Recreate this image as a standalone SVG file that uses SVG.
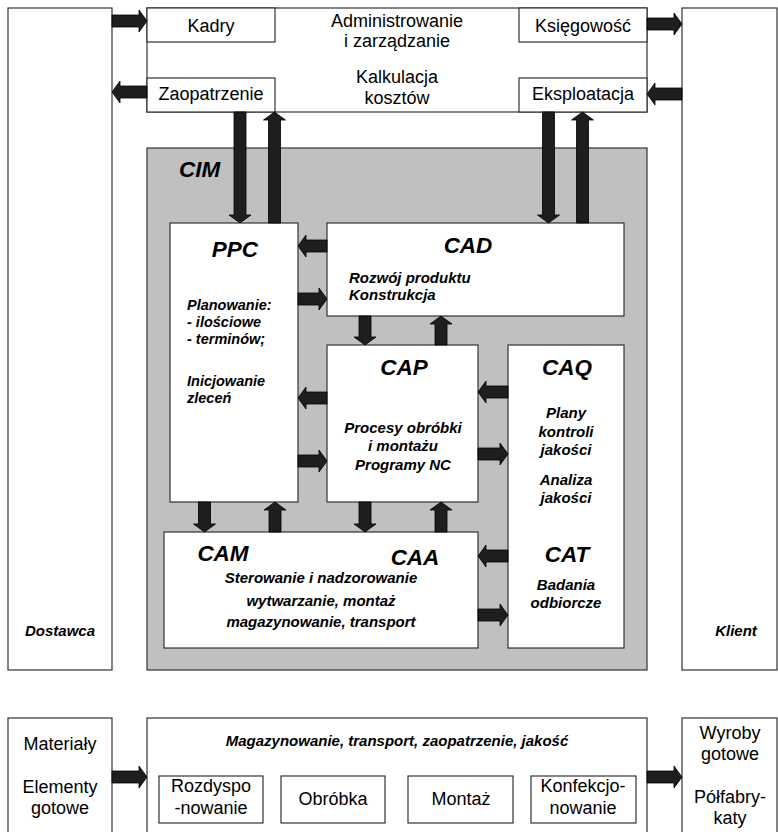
<svg xmlns="http://www.w3.org/2000/svg" width="778" height="832" viewBox="0 0 778 832">
  <style>
    .box { fill: #ffffff; stroke: #333333; stroke-width: 1.2; }
    .cim { fill: #c0c0c0; stroke: #333333; stroke-width: 1.2; }
    .arr { fill: #1e1e1e; stroke: #000000; stroke-width: 0.8; }
    text { font-family: "Liberation Sans", Arial, sans-serif; fill: #000000; }
    .reg { font-size: 18px; }
    .big { font-size: 22.5px; font-weight: bold; font-style: italic; }
    .bi { font-size: 15px; font-weight: bold; font-style: italic; }
    .mid { text-anchor: middle; }
  </style>

  <!-- Supplier and client columns -->
  <g id="dostawca">
    <rect class="box" x="8" y="8" width="104" height="662"/>
    <text class="bi mid" x="60" y="636">Dostawca</text>
  </g>
  <g id="klient">
    <rect class="box" x="682" y="8" width="95" height="662"/>
    <text class="bi mid" x="736" y="636">Klient</text>
  </g>

  <!-- Administration block -->
  <g id="administracja">
    <rect class="box" x="147" y="8" width="500" height="104"/>
    <text class="reg mid" x="397" y="27">Administrowanie</text>
    <text class="reg mid" x="397" y="47">i zarządzanie</text>
    <text class="reg mid" x="397" y="83">Kalkulacja</text>
    <text class="reg mid" x="397" y="104">kosztów</text>
  </g>
  <g id="kadry">
    <rect class="box" x="147" y="8" width="128" height="34"/>
    <text class="reg mid" x="211" y="32">Kadry</text>
  </g>
  <g id="zaopatrzenie">
    <rect class="box" x="147" y="78" width="128" height="34"/>
    <text class="reg mid" x="211" y="100">Zaopatrzenie</text>
  </g>
  <g id="ksiegowosc">
    <rect class="box" x="519" y="8" width="128" height="34"/>
    <text class="reg mid" x="583" y="32">Księgowość</text>
  </g>
  <g id="eksploatacja">
    <rect class="box" x="519" y="78" width="128" height="34"/>
    <text class="reg mid" x="583" y="100">Eksploatacja</text>
  </g>

  <!-- CIM area -->
  <g id="cim">
    <rect class="cim" x="147" y="148" width="500" height="522"/>
    <text class="big" x="179" y="177">CIM</text>
  </g>
  <g id="ppc">
    <rect class="box" x="170" y="223" width="128" height="279"/>
    <text class="big mid" x="235" y="257">PPC</text>
    <text class="bi" x="187" y="310" style="font-size:14.5px">Planowanie:</text>
    <text class="bi" x="187" y="327" style="font-size:14.5px">- ilościowe</text>
    <text class="bi" x="187" y="344" style="font-size:14.5px">- terminów;</text>
    <text class="bi" x="187" y="386" style="font-size:14.5px">Inicjowanie</text>
    <text class="bi" x="187" y="403" style="font-size:14.5px">zleceń</text>
  </g>
  <g id="cad">
    <rect class="box" x="327" y="223" width="297" height="93"/>
    <text class="big mid" x="468" y="253">CAD</text>
    <text class="bi" x="349" y="283">Rozwój produktu</text>
    <text class="bi" x="349" y="300">Konstrukcja</text>
  </g>
  <g id="cap">
    <rect class="box" x="327" y="345" width="151" height="157"/>
    <text class="big mid" x="404" y="375">CAP</text>
    <text class="bi mid" x="403" y="433">Procesy obróbki</text>
    <text class="bi mid" x="403" y="451">i montażu</text>
    <text class="bi mid" x="403" y="470">Programy NC</text>
  </g>
  <g id="caq">
    <rect class="box" x="508" y="345" width="116" height="303"/>
    <text class="big mid" x="567" y="375">CAQ</text>
    <text class="bi mid" x="566" y="418">Plany</text>
    <text class="bi mid" x="566" y="437">kontroli</text>
    <text class="bi mid" x="566" y="455">jakości</text>
    <text class="bi mid" x="566" y="485">Analiza</text>
    <text class="bi mid" x="566" y="503">jakości</text>
    <text class="big mid" x="567" y="562">CAT</text>
    <text class="bi mid" x="566" y="590">Badania</text>
    <text class="bi mid" x="566" y="608">odbiorcze</text>
  </g>
  <g id="cam">
    <rect class="box" x="164" y="532" width="314" height="116"/>
    <text class="big mid" x="223" y="561">CAM</text>
    <text class="big mid" x="415" y="565">CAA</text>
    <text class="bi mid" x="321" y="583">Sterowanie i nadzorowanie</text>
    <text class="bi mid" x="321" y="606">wytwarzanie, montaż</text>
    <text class="bi mid" x="321" y="627">magazynowanie, transport</text>
  </g>

  <!-- Material flow row -->
  <g id="materialy">
    <rect class="box" x="8" y="718" width="104" height="130"/>
    <text class="reg mid" x="60" y="750">Materiały</text>
    <text class="reg mid" x="60" y="793">Elementy</text>
    <text class="reg mid" x="60" y="814">gotowe</text>
  </g>
  <g id="produkcja">
    <rect class="box" x="147" y="718" width="500" height="130"/>
    <text class="bi mid" x="397" y="746">Magazynowanie, transport, zaopatrzenie, jakość</text>
  </g>
  <g id="rozdysponowanie">
    <rect class="box" x="159" y="776" width="104" height="47"/>
    <text class="reg mid" x="211" y="792">Rozdyspo</text>
    <text class="reg mid" x="211" y="814">-nowanie</text>
  </g>
  <g id="obrobka">
    <rect class="box" x="281" y="776" width="104" height="47"/>
    <text class="reg mid" x="333" y="805">Obróbka</text>
  </g>
  <g id="montaz">
    <rect class="box" x="408" y="776" width="105" height="47"/>
    <text class="reg mid" x="461" y="805">Montaż</text>
  </g>
  <g id="konfekcjonowanie">
    <rect class="box" x="531" y="776" width="105" height="47"/>
    <text class="reg mid" x="583" y="792">Konfekcjo-</text>
    <text class="reg mid" x="583" y="814">nowanie</text>
  </g>
  <g id="wyroby">
    <rect class="box" x="682" y="718" width="95" height="130"/>
    <text class="reg mid" x="730" y="739">Wyroby</text>
    <text class="reg mid" x="730" y="760">gotowe</text>
    <text class="reg mid" x="730" y="803">Półfabry-</text>
    <text class="reg mid" x="730" y="824">katy</text>
  </g>

  <!-- Block arrows -->
  <g id="connectors">
    <path class="arr" d="M112,15 H139 V10 L147,21 L139,32 V27 H112 Z"/>
    <path class="arr" d="M147,86 H120 V81 L112,92 L120,103 V98 H147 Z"/>
    <path class="arr" d="M647,18 H674 V13 L682,24 L674,35 V30 H647 Z"/>
    <path class="arr" d="M682,88 H655 V83 L647,94 L655,105 V100 H682 Z"/>
    <path class="arr" d="M327,240 H306 V235 L298,246 L306,257 V252 H327 Z"/>
    <path class="arr" d="M298,293 H319 V288 L327,299 L319,310 V305 H298 Z"/>
    <path class="arr" d="M327,392 H306 V387 L298,398 L306,409 V404 H327 Z"/>
    <path class="arr" d="M298,455 H319 V450 L327,461 L319,472 V467 H298 Z"/>
    <path class="arr" d="M508,386 H486 V381 L478,392 L486,403 V398 H508 Z"/>
    <path class="arr" d="M478,448 H500 V443 L508,454 L500,465 V460 H478 Z"/>
    <path class="arr" d="M508,550 H486 V545 L478,556 L486,567 V562 H508 Z"/>
    <path class="arr" d="M478,609 H500 V604 L508,615 L500,626 V621 H478 Z"/>
    <path class="arr" d="M112,771 H139 V766 L147,777 L139,788 V783 H112 Z"/>
    <path class="arr" d="M647,771 H674 V766 L682,777 L674,788 V783 H647 Z"/>
    <path class="arr" d="M234,112 V215 H229 L240,223 L251,215 H246 V112 Z"/>
    <path class="arr" d="M268.5,223 V120 H263.5 L274.5,112 L285.5,120 H280.5 V223 Z"/>
    <path class="arr" d="M542.5,112 V215 H537.5 L548.5,223 L559.5,215 H554.5 V112 Z"/>
    <path class="arr" d="M576.5,223 V120 H571.5 L582.5,112 L593.5,120 H588.5 V223 Z"/>
    <path class="arr" d="M359,316 V337 H354 L365,345 L376,337 H371 V316 Z"/>
    <path class="arr" d="M435,345 V324 H430 L441,316 L452,324 H447 V345 Z"/>
    <path class="arr" d="M198.5,502 V524 H193.5 L204.5,532 L215.5,524 H210.5 V502 Z"/>
    <path class="arr" d="M269,532 V510 H264 L275,502 L286,510 H281 V532 Z"/>
    <path class="arr" d="M359,502 V524 H354 L365,532 L376,524 H371 V502 Z"/>
    <path class="arr" d="M435,532 V510 H430 L441,502 L452,510 H447 V532 Z"/>
  </g>
</svg>
